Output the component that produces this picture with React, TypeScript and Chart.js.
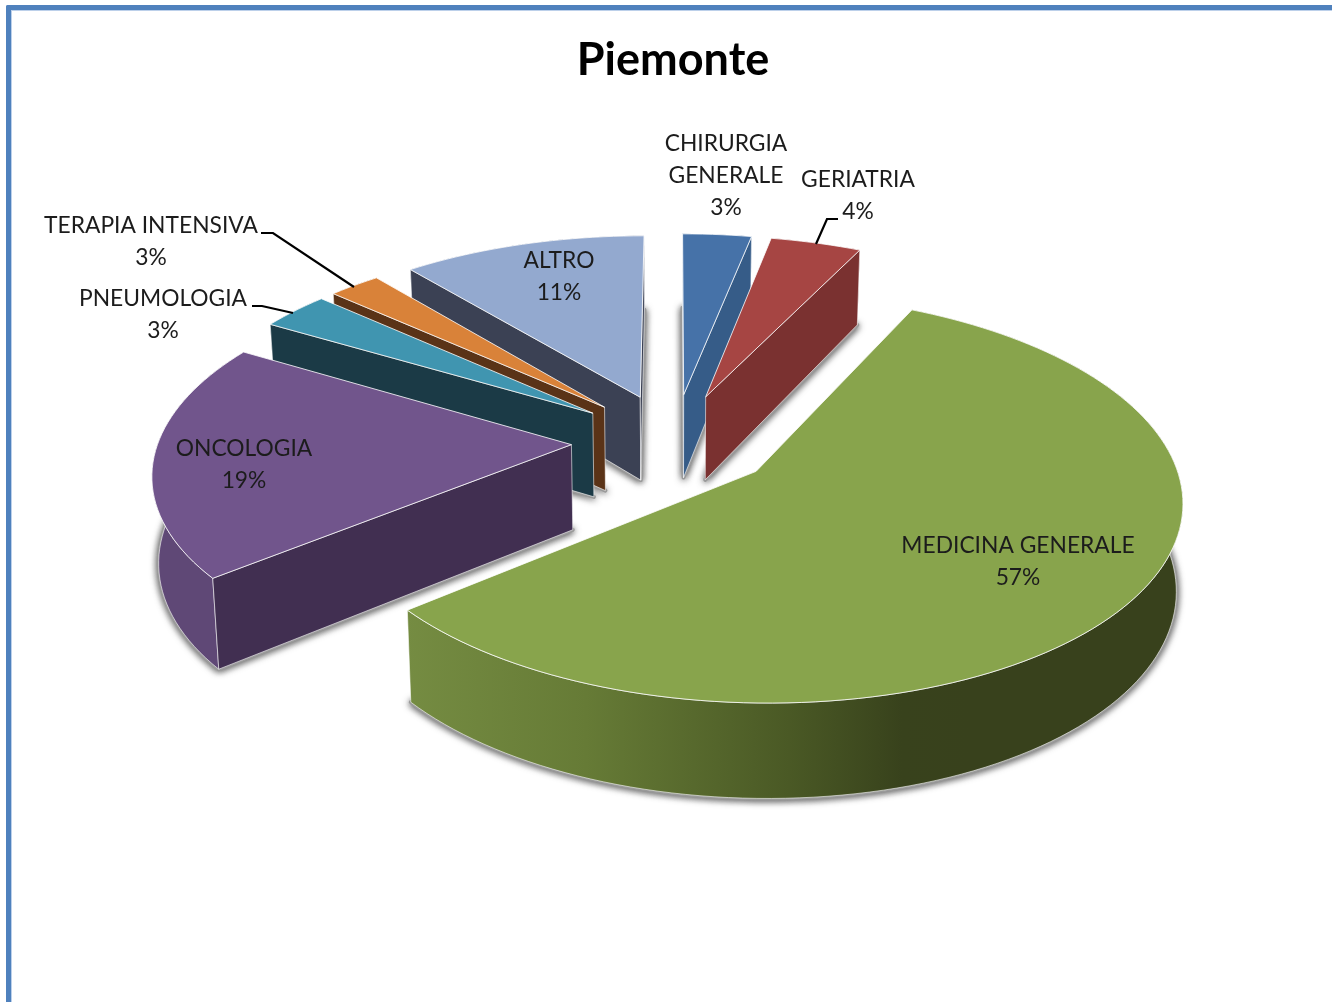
import React, { useEffect, useRef } from "react";
import { Chart, registerables } from "chart.js";

Chart.register(...registerables);

// ---- data ----
const categories = [
  "CHIRURGIA GENERALE",
  "GERIATRIA",
  "MEDICINA GENERALE",
  "ONCOLOGIA",
  "PNEUMOLOGIA",
  "TERAPIA INTENSIVA",
  "ALTRO",
];
const shares = [3.1, 4.1, 56.9, 19.4, 3.15, 2.35, 11];
const percentLabels = ["3%", "4%", "57%", "19%", "3%", "3%", "11%"];
const chartTitle = "Piemonte";

// ---- styles ----
const topColors = ["#4672a8", "#a64543", "#88a44c", "#71558c", "#4095b0", "#d98239", "#93a9cf"];
const sideColors = ["#365c88", "#7a3130", "#5f7233", "#412f51", "#1b3a46", "#5a3317", "#3b4154"];
const rimColors = ["#365c88", "#7a3130", "#38421c", "#5f4876", "#1b3a46", "#5a3317", "#3b4154"];
const greenRimStops: [number, string][] = [
  [0, "#758c42"],
  [0.32, "#667b36"],
  [0.68, "#4a5925"],
  [0.88, "#38421c"],
  [1, "#38411c"],
];
// text layout: centre x, first-line centre y, lines of the category name
const labelLayout = [
  { x: 726, y: 144, lines: ["CHIRURGIA", "GENERALE"] },
  { x: 858, y: 180, lines: ["GERIATRIA"] },
  { x: 1018, y: 546, lines: ["MEDICINA GENERALE"] },
  { x: 244, y: 449, lines: ["ONCOLOGIA"] },
  { x: 163, y: 299, lines: ["PNEUMOLOGIA"] },
  { x: 151, y: 226, lines: ["TERAPIA INTENSIVA"] },
  { x: 559, y: 261, lines: ["ALTRO"] },
];
const leaderLines = [
  [[838, 219], [827, 219], [816, 244]],
  [[252, 306], [262, 306], [293, 313]],
  [[261, 233], [273, 233], [354, 287]],
];
const view = { cx: 674, cy: 441, R: 413, A: 193, k: 0.13, depth: 85, depthSlope: 9, shrink: 0.013 };
const explodePx = 100;

const project = (u: number, v: number, z: number) => {
  const w = 1 + view.k * v;
  return {
    x: view.cx + ((view.R * u) / w) * (1 - view.shrink * z),
    y: view.cy - (view.A * v) / w + z * (view.depth - view.depthSlope * v),
  };
};

const signedArea = (pts: { x: number; y: number }[]) =>
  pts.reduce((sum, p, j) => {
    const q = pts[(j + 1) % pts.length];
    return sum + p.x * q.y - q.x * p.y;
  }, 0);

const piePlugin = {
  id: "pie3d",
  beforeDatasetDraw(chart: any) {
    const ctx: CanvasRenderingContext2D = chart.ctx;
    const meta = chart.getDatasetMeta(0);
    const slices = meta.data.map((arc: any, i: number) => {
      const { startAngle, endAngle, outerRadius } = arc.getProps(["startAngle", "endAngle", "outerRadius"], true);
      const mid = (startAngle + endAngle) / 2;
      const e = arc.options.offset / outerRadius;
      const ou = Math.cos(mid) * e;
      const ov = -Math.sin(mid) * e;
      const n = Math.max(2, Math.ceil((endAngle - startAngle) / 0.03));
      const ring: [number, number][] = [];
      for (let s = 0; s <= n; s++) {
        const a = startAngle + ((endAngle - startAngle) * s) / n;
        ring.push([ou + Math.cos(a), ov - Math.sin(a)]);
      }
      return { i, ring, ou, ov, midV: -Math.sin(mid) };
    });

    const tracePts = (pts: { x: number; y: number }[]) => {
      ctx.beginPath();
      pts.forEach((p, j) => (j ? ctx.lineTo(p.x, p.y) : ctx.moveTo(p.x, p.y)));
      ctx.closePath();
    };
    const face = (s: any, z: number) => [
      project(s.ou, s.ov, z),
      ...s.ring.map((r: [number, number]) => project(r[0], r[1], z)),
    ];

    ctx.save();
    ctx.lineJoin = "round";
    // soft shadow under every slice
    ctx.save();
    ctx.shadowColor = "rgba(40,40,40,0.75)";
    ctx.shadowBlur = 7;
    ctx.shadowOffsetY = 1;
    ctx.fillStyle = "#9a9a9a";
    ctx.strokeStyle = "#9a9a9a";
    ctx.lineWidth = 4;
    slices.forEach((s: any) => {
      tracePts(face(s, 1));
      ctx.fill();
      ctx.stroke();
    });
    ctx.restore();

    const edge = "rgba(255,255,255,0.72)";
    [...slices]
      .sort((a: any, b: any) => b.midV - a.midV)
      .forEach((s: any) => {
        const apexT = project(s.ou, s.ov, 0);
        const apexB = project(s.ou, s.ov, 1);
        const first = s.ring[0];
        const last = s.ring[s.ring.length - 1];
        // outer rim
        const topRing = s.ring.map((r: [number, number]) => project(r[0], r[1], 0));
        const botRing = s.ring.map((r: [number, number]) => project(r[0], r[1], 1)).reverse();
        tracePts([...topRing, ...botRing]);
        if (s.i === 2) {
          const g = ctx.createLinearGradient(405, 0, 970, 0);
          greenRimStops.forEach(([o, c]) => g.addColorStop(o, c));
          ctx.fillStyle = g;
        } else {
          ctx.fillStyle = rimColors[s.i];
        }
        ctx.fill();
        ctx.strokeStyle = edge;
        ctx.lineWidth = 0.8;
        ctx.stroke();
        // radial walls: only the one that faces the viewer
        [first, last].forEach((r: [number, number], side: number) => {
          const poly = [apexT, project(r[0], r[1], 0), project(r[0], r[1], 1), apexB];
          const area = signedArea(poly);
          if ((side === 0 && area >= 0) || (side === 1 && area <= 0)) return;
          tracePts(poly);
          ctx.fillStyle = sideColors[s.i];
          ctx.fill();
          ctx.strokeStyle = edge;
          ctx.lineWidth = 0.8;
          ctx.stroke();
        });
        // top face
        tracePts(face(s, 0));
        ctx.fillStyle = topColors[s.i];
        ctx.fill();
        ctx.strokeStyle = "rgba(255,255,255,0.8)";
        ctx.lineWidth = 1;
        ctx.stroke();
      });
    ctx.restore();
    return false;
  },
  afterDatasetsDraw(chart: any) {
    const ctx: CanvasRenderingContext2D = chart.ctx;
    ctx.save();
    ctx.strokeStyle = "#000";
    ctx.lineWidth = 2.2;
    leaderLines.forEach((pts) => {
      ctx.beginPath();
      pts.forEach((p, j) => (j ? ctx.lineTo(p[0], p[1]) : ctx.moveTo(p[0], p[1])));
      ctx.stroke();
    });
    ctx.font = "22.8px Lato";
    ctx.textAlign = "center";
    ctx.textBaseline = "middle";
    ctx.fillStyle = "#1c1c1c";
    labelLayout.forEach((l, i) => {
      const lines = [...l.lines, percentLabels[i]];
      lines.forEach((t, j) => ctx.fillText(t, l.x, l.y + j * 32));
    });
    ctx.restore();
  },
};

export default function App() {
  const ref = useRef<HTMLCanvasElement>(null);
  useEffect(() => {
    const chart = new Chart(ref.current!, {
      type: "pie",
      data: {
        labels: categories,
        datasets: [
          {
            data: shares,
            backgroundColor: topColors,
            offset: shares.map(() => explodePx),
            borderWidth: 0,
          },
        ],
      },
      options: {
        responsive: false,
        animation: false,
        layout: { padding: { left: 14 } },
        plugins: {
          legend: { display: false },
          tooltip: { enabled: false },
          title: {
            display: true,
            text: chartTitle,
            color: "#000",
            font: { family: "Lato", size: 45, weight: "bold" },
            padding: { top: 33, bottom: 10 },
          },
        },
      } as any,
      plugins: [piePlugin as any],
    });
    return () => chart.destroy();
  }, []);
  return (
    <div style={{ position: "fixed", inset: 0, overflow: "hidden", background: "#fff" }}>
      <canvas ref={ref} width={1332} height={1002} style={{ position: "absolute", left: 0, top: 0, display: "block" }} />
      <div
        style={{
          position: "absolute",
          left: 6,
          top: 5,
          right: 0,
          bottom: 0,
          borderLeft: "5px solid #4f81bd",
          borderTop: "5px solid #4f81bd",
          borderTopLeftRadius: 2,
          boxShadow: "inset 1px 1px 0 #bcd0ea",
          pointerEvents: "none",
        }}
      />
    </div>
  );
}
